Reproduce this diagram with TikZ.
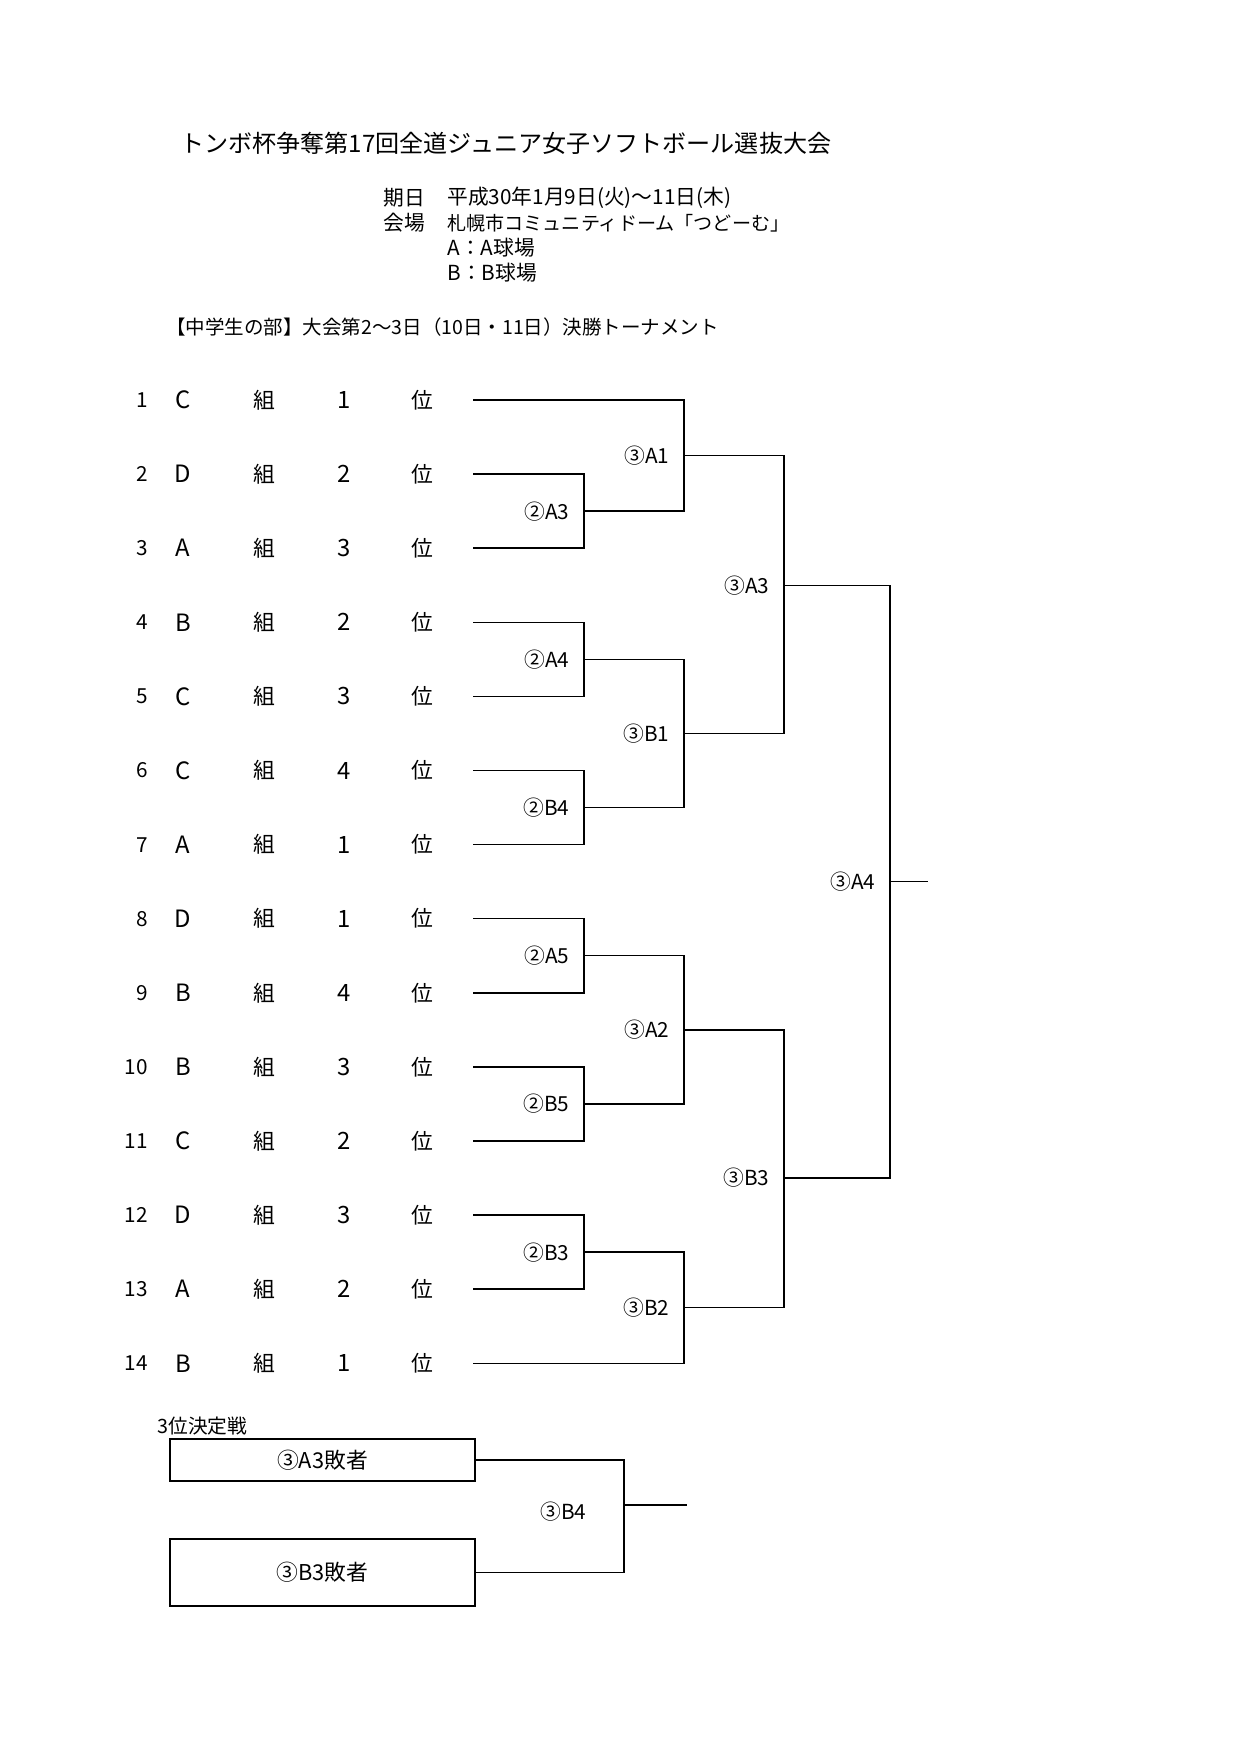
\documentclass[tikz,border=0pt]{standalone}
\usepackage{fontspec}
\setmainfont{Noto Sans CJK JP}
\usepackage{tikz}
\usetikzlibrary{positioning,calc}

% y position of a row of the draw
\newcommand{\ry}[1]{400+(#1-1)*74.1}

\begin{document}
\begin{tikzpicture}[x=0.1694mm, y=-0.1694mm,
    txt/.style={inner sep=0pt, font=\fontsize{10}{12}\selectfont},
    big/.style={inner sep=0pt, font=\fontsize{11.5}{13}\selectfont},
    lbl/.style={inner sep=0pt, anchor=east, xshift=-2.4mm, font=\fontsize{10}{12}\selectfont},
    bline/.style={line width=0.7pt},
    loserbox/.style={draw, line width=0.7pt, minimum width=51.7mm, inner sep=0pt, font=\fontsize{10.5}{12}\selectfont}]
    \useasboundingbox (0,0) rectangle (1240,1753);

    % Heading
    \node[txt, anchor=west, font=\fontsize{11.6}{13}\selectfont] (title) at (180,143) {トンボ杯争奪第17回全道ジュニア女子ソフトボール選抜大会};
    \node[txt, anchor=west] (datekey) at (383,198) {期日};
    \node[txt, anchor=west] (dateval) at (447,198) {平成30年1月9日(火)～11日(木)};
    \node[txt, anchor=west] (placekey) at (383,223) {会場};
    \node[txt, anchor=west, font=\fontsize{9.2}{12}\selectfont] (placeval) at (447,223) {札幌市コミュニティドーム「つどーむ」};
    \node[txt, anchor=west] (fielda) at (447,248) {A：A球場};
    \node[txt, anchor=west] (fieldb) at (447,273) {B：B球場};
    \node[txt, anchor=west, font=\fontsize{9.4}{11}\selectfont] (section) at (166,327) {【中学生の部】大会第2～3日（10日・11日）決勝トーナメント};

    % Entries
    \foreach \i/\g/\n in {1/C/1, 2/D/2, 3/A/3, 4/B/2, 5/C/3, 6/C/4, 7/A/1,
                          8/D/1, 9/B/4, 10/B/3, 11/C/2, 12/D/3, 13/A/2, 14/B/1} {
        \node[txt, anchor=east] (num\i) at (148,{\ry{\i}}) {\i};
        \node[big] (grp\i) at (183,{\ry{\i}}) {\g};
        \node[txt, font=\fontsize{10.5}{12}\selectfont] (kumi\i) at (264,{\ry{\i}}) {組};
        \node[big] (rank\i) at (344,{\ry{\i}}) {\n};
        \node[txt, font=\fontsize{10.5}{12}\selectfont] (pos\i) at (422,{\ry{\i}}) {位};
        \coordinate (e\i) at (473,{\ry{\i}});
    }

    % Junctions
    \coordinate (m2a3) at (584,{\ry{2.5}});
    \coordinate (m2a4) at (584,{\ry{4.5}});
    \coordinate (m2b4) at (584,{\ry{6.5}});
    \coordinate (m2a5) at (584,{\ry{8.5}});
    \coordinate (m2b5) at (584,{\ry{10.5}});
    \coordinate (m2b3) at (584,{\ry{12.5}});
    \coordinate (m3a1) at (684,{\ry{1.75}});
    \coordinate (m3b1) at (684,{\ry{5.5}});
    \coordinate (m3a2) at (684,{\ry{9.5}});
    \coordinate (m3b2) at (684,{\ry{13.25}});
    \coordinate (m3a3) at (784,{\ry{3.5}});
    \coordinate (m3b3) at (784,{\ry{11.5}});
    \coordinate (m3a4) at (890,{\ry{7.5}});
    \coordinate (champ) at (928,{\ry{7.5}});

    % First round
    \draw[bline] (e2) -| (m2a3) |- (e3);
    \draw[bline] (e4) -| (m2a4) |- (e5);
    \draw[bline] (e6) -| (m2b4) |- (e7);
    \draw[bline] (e8) -| (m2a5) |- (e9);
    \draw[bline] (e10) -| (m2b5) |- (e11);
    \draw[bline] (e12) -| (m2b3) |- (e13);

    % Second round
    \draw[bline] (e1) -| (m3a1) |- (m2a3);
    \draw[bline] (m2a4) -| (m3b1) |- (m2b4);
    \draw[bline] (m2a5) -| (m3a2) |- (m2b5);
    \draw[bline] (m2b3) -| (m3b2) |- (e14);

    % Semi-finals and final
    \draw[bline] (m3a1) -| (m3a3) |- (m3b1);
    \draw[bline] (m3a2) -| (m3b3) |- (m3b2);
    \draw[bline] (m3a3) -| (m3a4) |- (m3b3);
    \draw[bline] (m3a4) -- (champ);

    % Game labels
    \node[lbl] (l2a3) at (m2a3) {②A3};
    \node[lbl] (l2a4) at (m2a4) {②A4};
    \node[lbl] (l2b4) at (m2b4) {②B4};
    \node[lbl] (l2a5) at (m2a5) {②A5};
    \node[lbl] (l2b5) at (m2b5) {②B5};
    \node[lbl] (l2b3) at (m2b3) {②B3};
    \node[lbl] (l3a1) at (m3a1) {③A1};
    \node[lbl] (l3b1) at (m3b1) {③B1};
    \node[lbl] (l3a2) at (m3a2) {③A2};
    \node[lbl] (l3b2) at (m3b2) {③B2};
    \node[lbl] (l3a3) at (m3a3) {③A3};
    \node[lbl] (l3b3) at (m3b3) {③B3};
    \node[lbl] (l3a4) at (m3a4) {③A4};

    % Third place game
    \node[txt, anchor=west, font=\fontsize{9.5}{11}\selectfont] (third) at (157,1426) {3位決定戦};
    \node[loserbox, minimum height=7.1mm] (losera) at (322.5,1460) {③A3敗者};
    \node[loserbox, minimum height=11.35mm] (loserb) at (322.5,1572.5) {③B3敗者};
    \coordinate (m3b4) at (624,1505);
    \coordinate (thirdend) at (687,1505);
    \draw[bline] (losera.east) -| (m3b4) |- (loserb.east);
    \draw[bline] (m3b4) -- (thirdend);
    \node[lbl, xshift=-3.9mm] (l3b4) at (624,1512) {③B4};
\end{tikzpicture}
\end{document}
